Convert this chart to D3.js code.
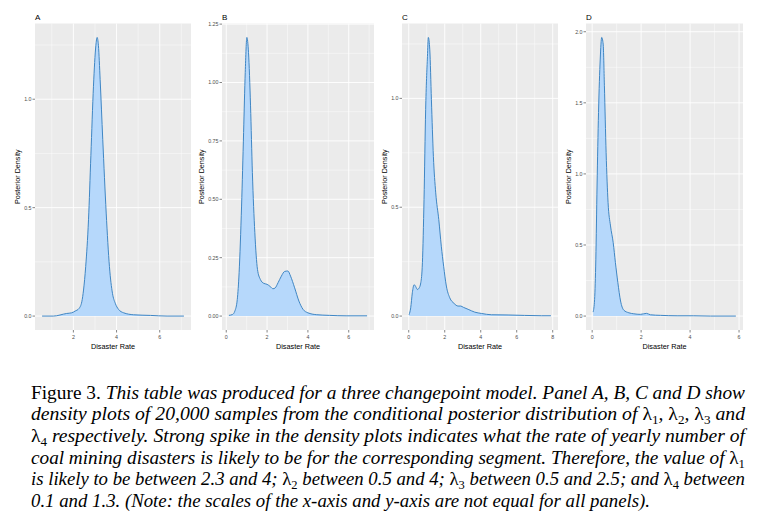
<!DOCTYPE html>
<html><head><meta charset="utf-8">
<script src="https://cdn.jsdelivr.net/npm/d3@7"></script>
<style>body{margin:0;background:#fff}</style>
</head><body><svg id="c" width="768" height="520" xmlns="http://www.w3.org/2000/svg"></svg>
<script>
// ---------- DATA ----------
const panelLabels = ["A", "B", "C", "D"];

const rateA = [0.55, 1.07, 1.69, 1.92, 2.08, 2.26, 2.39, 2.47, 2.57, 2.70, 2.81, 2.93, 3.04, 3.10, 3.16, 3.24, 3.36, 3.52, 3.67, 3.81, 3.94, 4.09, 4.33, 4.79, 5.57, 6.34, 7.12];
const densA = [0.0, 0.0, 0.012, 0.015, 0.023, 0.035, 0.066, 0.12, 0.228, 0.444, 0.74, 1.06, 1.247, 1.285, 1.247, 1.09, 0.815, 0.475, 0.228, 0.105, 0.059, 0.031, 0.015, 0.006, 0.003, 0.0, 0.0];

const rateB = [0.13, 0.31, 0.42, 0.54, 0.63, 0.75, 0.85, 0.93, 1.01, 1.09, 1.19, 1.28, 1.40, 1.53, 1.67, 1.84, 2.0, 2.16, 2.29, 2.39, 2.54, 2.70, 2.86, 3.02, 3.15, 3.35, 3.56, 3.76, 4.0, 4.41, 5.06, 5.87, 6.9];
const densB = [0.003, 0.007, 0.021, 0.071, 0.186, 0.471, 0.786, 1.043, 1.193, 1.129, 0.9, 0.614, 0.357, 0.2, 0.157, 0.14, 0.136, 0.126, 0.117, 0.12, 0.143, 0.171, 0.191, 0.193, 0.171, 0.121, 0.064, 0.029, 0.014, 0.006, 0.003, 0.001, 0.001];

const rateC = [0.02, 0.11, 0.20, 0.30, 0.39, 0.48, 0.57, 0.67, 0.76, 0.85, 0.94, 1.04, 1.09, 1.17, 1.26, 1.37, 1.50, 1.67, 1.81, 1.94, 2.09, 2.28, 2.52, 2.74, 2.89, 3.04, 3.30, 3.67, 4.04, 4.59, 5.52, 6.44, 7.37, 7.9];
const densC = [0.006, 0.038, 0.107, 0.144, 0.135, 0.122, 0.128, 0.153, 0.245, 0.535, 0.948, 1.193, 1.28, 1.223, 0.994, 0.734, 0.566, 0.443, 0.321, 0.229, 0.138, 0.084, 0.058, 0.046, 0.046, 0.040, 0.031, 0.018, 0.012, 0.006, 0.005, 0.003, 0.0015, 0.0015];

const rateD = [0.04, 0.10, 0.15, 0.20, 0.26, 0.33, 0.39, 0.45, 0.50, 0.57, 0.65, 0.75, 0.86, 0.95, 1.05, 1.16, 1.29, 1.50, 1.70, 1.97, 2.22, 2.38, 2.79, 3.47, 4.15, 4.83, 5.87];
const densD = [0.028, 0.117, 0.40, 0.915, 1.432, 1.808, 1.96, 1.913, 1.62, 1.15, 0.798, 0.634, 0.516, 0.376, 0.235, 0.106, 0.042, 0.023, 0.016, 0.012, 0.019, 0.009, 0.005, 0.002, 0.002, 0.0, 0.0];

const xTicksA = [2, 4, 6];
const xTicksB = [0, 2, 4, 6];
const xTicksC = [0, 2, 4, 6, 8];
const xTicksD = [0, 2, 4, 6];

const yTicksA = [0, 0.5, 1.0];
const yTickLabelsA = ["0.0", "0.5", "1.0"];
const yTicksB = [0, 0.25, 0.5, 0.75, 1.0, 1.25];
const yTickLabelsB = ["0.00", "0.25", "0.50", "0.75", "1.00", "1.25"];
const yTicksC = [0, 0.5, 1.0];
const yTickLabelsC = ["0.0", "0.5", "1.0"];
const yTicksD = [0, 0.5, 1.0, 1.5, 2.0];
const yTickLabelsD = ["0.0", "0.5", "1.0", "1.5", "2.0"];

const xAxisTitle = "Disaster Rate";
const yAxisTitle = "Posterior Density";

const captionLines = [
  [["Figure 3. ", "n"], ["This table was produced for a three changepoint model. Panel A, B, C and D show", "i"]],
  [["density plots of 20,000 samples from the conditional posterior distribution of ", "i"], ["λ", "l"], ["1", "s"], [", ", "i"], ["λ", "l"], ["2", "s"], [", ", "i"], ["λ", "l"], ["3", "s"], [" and", "i"]],
  [["λ", "l"], ["4", "s"], [" respectively. Strong spike in the density plots indicates what the rate of yearly number of", "i"]],
  [["coal mining disasters is likely to be for the corresponding segment. Therefore, the value of ", "i"], ["λ", "l"], ["1", "s"]],
  [["is likely to be between 2.3 and 4; ", "i"], ["λ", "l"], ["2", "s"], [" between 0.5 and 4; ", "i"], ["λ", "l"], ["3", "s"], [" between 0.5 and 2.5; and ", "i"], ["λ", "l"], ["4", "s"], [" between", "i"]],
  [["0.1 and 1.3. (Note: the scales of the x-axis and y-axis are not equal for all panels).", "i"]]
];

// ---------- LAYOUT ----------
const panels = [
  {label: panelLabels[0], x: rateA, y: densA, xt: xTicksA, yt: yTicksA, ytl: yTickLabelsA},
  {label: panelLabels[1], x: rateB, y: densB, xt: xTicksB, yt: yTicksB, ytl: yTickLabelsB},
  {label: panelLabels[2], x: rateC, y: densC, xt: xTicksC, yt: yTicksC, ytl: yTickLabelsC},
  {label: panelLabels[3], x: rateD, y: densD, xt: xTicksD, yt: yTicksD, ytl: yTickLabelsD}
];
const plotLeft = [35, 222, 402, 586];
const plotRight = [191, 374, 558, 743];
const plotTop = 23.5, plotBottom = 330;
const sans = "'Liberation Sans', Arial, sans-serif";

const svg = d3.select("#c");

function minorBreaks(ticks, dom) {
  const step = ticks[1] - ticks[0];
  const out = [];
  for (let v = ticks[0] - step * 10 - step / 2; v <= dom[1]; v += step) {
    if (v >= dom[0] && v <= dom[1]) out.push(v);
  }
  return out;
}

panels.forEach((p, i) => {
  const x0 = plotLeft[i], x1 = plotRight[i];
  const [xmin, xmax] = d3.extent(p.x);
  const xr = xmax - xmin;
  const x = d3.scaleLinear().domain([xmin - 0.05 * xr, xmax + 0.05 * xr]).range([x0, x1]);
  const ymax = d3.max(p.y);
  const y = d3.scaleLinear().domain([-0.05 * ymax, 1.05 * ymax]).range([plotBottom, plotTop]);
  const g = svg.append("g");

  g.append("rect").attr("x", x0).attr("y", plotTop).attr("width", x1 - x0).attr("height", plotBottom - plotTop).attr("fill", "#EBEBEB");

  // minor grid
  minorBreaks(p.xt, x.domain()).forEach(v => {
    g.append("line").attr("x1", x(v)).attr("x2", x(v)).attr("y1", plotTop).attr("y2", plotBottom).attr("stroke", "#fff").attr("stroke-width", 0.45);
  });
  minorBreaks(p.yt, y.domain()).forEach(v => {
    g.append("line").attr("x1", x0).attr("x2", x1).attr("y1", y(v)).attr("y2", y(v)).attr("stroke", "#fff").attr("stroke-width", 0.45);
  });
  // major grid
  p.xt.forEach(v => {
    g.append("line").attr("x1", x(v)).attr("x2", x(v)).attr("y1", plotTop).attr("y2", plotBottom).attr("stroke", "#fff").attr("stroke-width", 0.9);
  });
  p.yt.forEach(v => {
    g.append("line").attr("x1", x0).attr("x2", x1).attr("y1", y(v)).attr("y2", y(v)).attr("stroke", "#fff").attr("stroke-width", 0.9);
  });

  const pts = p.x.map((v, k) => [v, p.y[k]]);
  const area = d3.area().x(d => x(d[0])).y0(y(0)).y1(d => y(d[1])).curve(d3.curveMonotoneX);
  const line = d3.line().x(d => x(d[0])).y(d => y(d[1])).curve(d3.curveMonotoneX);
  g.append("path").attr("d", area(pts)).attr("fill", "#B6D8FB");
  g.append("path").attr("d", line(pts)).attr("fill", "none").attr("stroke", "#3F86C4").attr("stroke-width", 1);

  // x axis ticks
  p.xt.forEach(v => {
    g.append("line").attr("x1", x(v)).attr("x2", x(v)).attr("y1", plotBottom).attr("y2", plotBottom + 2.5).attr("stroke", "#333").attr("stroke-width", 0.6);
    g.append("text").attr("x", x(v)).attr("y", plotBottom + 9).attr("text-anchor", "middle")
      .attr("font-family", sans).attr("font-size", 5.3).attr("fill", "#4D4D4D").text(v);
  });
  // y axis ticks
  let labelLeft = x0;
  p.yt.forEach((v, k) => {
    g.append("line").attr("x1", x0 - 2.5).attr("x2", x0).attr("y1", y(v)).attr("y2", y(v)).attr("stroke", "#333").attr("stroke-width", 0.6);
    const t = g.append("text").attr("x", x0 - 3.5).attr("y", y(v)).attr("dy", "0.35em").attr("text-anchor", "end")
      .attr("font-family", sans).attr("font-size", 5.3).attr("fill", "#4D4D4D").text(p.ytl[k]);
    const w = t.node().getComputedTextLength();
    labelLeft = Math.min(labelLeft, x0 - 3.5 - w);
  });

  // axis titles
  g.append("text").attr("x", (x0 + x1) / 2).attr("y", 348.5).attr("text-anchor", "middle")
    .attr("font-family", sans).attr("font-size", 7.3).attr("fill", "#000").text(xAxisTitle);
  const ty = (plotTop + plotBottom) / 2;
  g.append("text").attr("transform", `translate(${labelLeft - 4},${ty}) rotate(-90)`)
    .attr("text-anchor", "middle").attr("font-family", sans).attr("font-size", 7.2).attr("fill", "#000").text(yAxisTitle);

  // panel tag
  g.append("text").attr("x", x0).attr("y", 19.5).attr("font-family", sans).attr("font-size", 8).attr("fill", "#000").text(p.label);
});

// ---------- CAPTION ----------
const capL = 31, capR = 745;
const capTop = 398.5, capStep = 21.7;
captionLines.forEach((segs, li) => {
  const t = svg.append("text").attr("x", capL).attr("y", capTop + li * capStep)
    .attr("font-family", "'Liberation Serif', 'Times New Roman', serif").attr("font-size", 18).attr("fill", "#000");
  let shifted = false;
  segs.forEach(([txt, st]) => {
    const ts = t.append("tspan").text(txt);
    if (st === "i") ts.attr("font-style", "italic");
    if (st === "n" || st === "l") ts.attr("font-style", "normal");
    if (st === "s") {
      ts.attr("font-style", "normal").attr("font-size", 12).attr("dy", 4);
      shifted = true;
    } else if (shifted) {
      ts.attr("dy", -4);
      shifted = false;
    }
  });
  const full = capR - capL;
  const len = li < 5 ? full : full * 0.867;
  t.attr("textLength", len).attr("lengthAdjust", "spacingAndGlyphs");
});
</script></body></html>
